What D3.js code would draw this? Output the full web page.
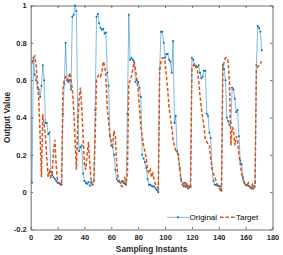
<!DOCTYPE html>
<html>
<head>
<meta charset="utf-8">
<script src="https://cdn.jsdelivr.net/npm/d3@7"></script>
<style>
  html, body { margin: 0; padding: 0; background: #fff; }
  svg text { font-family: "Liberation Sans", Arial, sans-serif; }
</style>
</head>
<body>
<div id="chart"></div>
<script>
const width = 283;
const height = 255;

// sampling instants 1..172
const instants = d3.range(1, 173);

const original = [
  0.05, 0.72, 0.63, 0.60, 0.56, 0.55, 0.51, 0.57, 0.68, 0.60,
  0.37, 0.37, 0.31, 0.32, 0.11, 0.09, 0.08, 0.07, 0.06, 0.05,
  0.05, 0.045, 0.04, 0.42, 0.58, 0.80, 0.60, 0.59, 0.60, 0.55,
  0.94, 0.95, 1.00, 0.97, 0.40, 0.22, 0.24, 0.25, 0.10, 0.06,
  0.05, 0.045, 0.055, 0.035, 0.055, 0.04, 0.06, 0.44, 0.94, 0.955,
  0.905, 0.88, 0.87, 0.875, 0.85, 0.855, 0.64, 0.57, 0.30, 0.25,
  0.24, 0.20, 0.12, 0.07, 0.06, 0.055, 0.05, 0.06, 0.05, 0.045,
  0.04, 0.42, 0.95, 0.71, 0.72, 0.71, 0.70, 0.59, 0.60, 0.59,
  0.56, 0.51, 0.20, 0.18, 0.16, 0.13, 0.07, 0.04, 0.04, 0.035,
  0.03, 0.03, 0.02, 0.01, 0.00, 0.66, 0.86, 0.86, 0.80, 0.72,
  0.74, 0.74, 0.71, 0.70, 0.64, 0.81, 0.37, 0.41, 0.22, 0.20,
  0.13, 0.07, 0.04, 0.03, 0.05, 0.03, 0.02, 0.025, 0.03, 0.72,
  0.71, 0.68, 0.67, 0.67, 0.68, 0.64, 0.61, 0.62, 0.65, 0.65,
  0.42, 0.41, 0.32, 0.29, 0.13, 0.06, 0.04, 0.04, 0.035, 0.035,
  0.03, 0.01, 0.68, 0.66, 0.60, 0.40, 0.38, 0.36, 0.37, 0.56,
  0.55, 0.50, 0.43, 0.44, 0.30, 0.17, 0.15, 0.08, 0.05, 0.04,
  0.04, 0.035, 0.03, 0.025, 0.02, 0.03, 0.05, 0.68, 0.89, 0.88,
  0.86, 0.76
];

const target = [
  0.69, 0.72, 0.73, 0.68, 0.60, 0.50, 0.30, 0.08, 0.42, 0.36,
  0.30, 0.18, 0.08, 0.12, 0.08, 0.10, 0.22, 0.28, 0.14, 0.06,
  0.05, 0.04, 0.05, 0.55, 0.60, 0.62, 0.62, 0.60, 0.64, 0.60,
  0.55, 0.45, 0.28, 0.12, 0.35, 0.50, 0.56, 0.45, 0.30, 0.15,
  0.12, 0.20, 0.27, 0.15, 0.06, 0.04, 0.05, 0.30, 0.60, 0.62,
  0.63, 0.62, 0.64, 0.70, 0.68, 0.62, 0.45, 0.38, 0.30, 0.27,
  0.25, 0.33, 0.30, 0.15, 0.08, 0.06, 0.04, 0.03, 0.05, 0.08,
  0.04, 0.10, 0.58, 0.60, 0.62, 0.66, 0.70, 0.66, 0.60, 0.55,
  0.45, 0.35, 0.30, 0.25, 0.22, 0.18, 0.12, 0.10, 0.12, 0.08,
  0.10, 0.06, 0.04, 0.03, 0.02, 0.65, 0.70, 0.72, 0.72, 0.70,
  0.62, 0.55, 0.45, 0.40, 0.35, 0.28, 0.25, 0.22, 0.22, 0.18,
  0.12, 0.06, 0.04, 0.05, 0.03, 0.05, 0.02, 0.04, 0.03, 0.66,
  0.68, 0.69, 0.68, 0.66, 0.60, 0.52, 0.45, 0.40, 0.35, 0.28,
  0.27, 0.26, 0.25, 0.18, 0.13, 0.10, 0.08, 0.06, 0.04, 0.03,
  0.01, 0.00, 0.66, 0.70, 0.72, 0.72, 0.70, 0.58, 0.25, 0.35,
  0.33, 0.25, 0.30, 0.28, 0.20, 0.15, 0.10, 0.07, 0.05, 0.04,
  0.03, 0.05, 0.03, 0.02, 0.04, 0.02, 0.03, 0.66, 0.67, 0.68,
  0.69, 0.70
];

const xTicks = [0, 20, 40, 60, 80, 100, 120, 140, 160, 180];
const yTicks = [-0.2, 0, 0.2, 0.4, 0.6, 0.8, 1];
const seriesNames = ["Original", "Target"];

const plotLeft = 30.7, plotRight = 272.5, plotTop = 5.5, plotBottom = 229.5;
const tickLen = 2.5;
const axisColor = "#6f6f6f";

const x = d3.scaleLinear().domain([0, 180]).range([plotLeft, plotRight]);
const y = d3.scaleLinear().domain([-0.2, 1]).range([plotBottom, plotTop]);

const svg = d3.select("#chart")
  .append("svg")
  .attr("width", width)
  .attr("height", height);

// axes (ticks point inward, box on)
const fmtY = d => d === 0 ? "0" : String(+d.toFixed(1));

const styleAxis = (g) => {
  g.select(".domain").attr("stroke", axisColor).attr("stroke-width", 1);
  g.selectAll(".tick line").attr("stroke", axisColor).attr("stroke-width", 1);
  g.selectAll(".tick text")
    .attr("fill", "#262626")
    .style("font-size", "7.5px")
    .style("font-weight", "bold");
};

svg.append("g")
  .attr("transform", `translate(0,${plotBottom})`)
  .call(d3.axisBottom(x).tickValues(xTicks).tickSize(-tickLen).tickPadding(5).tickSizeOuter(0))
  .call(styleAxis);

svg.append("g")
  .attr("transform", `translate(0,${plotTop})`)
  .call(d3.axisTop(x).tickValues(xTicks).tickSize(-tickLen).tickFormat("").tickSizeOuter(0))
  .call(styleAxis);

svg.append("g")
  .attr("transform", `translate(${plotLeft},0)`)
  .call(d3.axisLeft(y).tickValues(yTicks).tickSize(-tickLen).tickPadding(4).tickFormat(fmtY).tickSizeOuter(0))
  .call(styleAxis);

svg.append("g")
  .attr("transform", `translate(${plotRight},0)`)
  .call(d3.axisRight(y).tickValues(yTicks).tickSize(-tickLen).tickFormat("").tickSizeOuter(0))
  .call(styleAxis);

// axis labels
svg.append("text")
  .attr("x", (plotLeft + plotRight) / 2)
  .attr("y", 252)
  .attr("text-anchor", "middle")
  .attr("fill", "#262626")
  .style("font-size", "8.3px")
  .style("font-weight", "bold")
  .text("Sampling Instants");

svg.append("text")
  .attr("transform", `translate(10,${(plotTop + plotBottom) / 2}) rotate(-90)`)
  .attr("text-anchor", "middle")
  .attr("fill", "#262626")
  .style("font-size", "8.3px")
  .style("font-weight", "bold")
  .text("Output Value");

// series
const origData = instants.map((t, i) => ({ t: t, v: original[i] }));
const targData = instants.map((t, i) => ({ t: t, v: target[i] }));

const line = d3.line().x(d => x(d.t)).y(d => y(d.v));

svg.append("path")
  .datum(origData)
  .attr("fill", "none")
  .attr("stroke", "#0072BD")
  .attr("stroke-opacity", 0.7)
  .attr("stroke-width", 0.7)
  .attr("d", line);

svg.append("g")
  .selectAll("circle")
  .data(origData)
  .enter()
  .append("circle")
  .attr("cx", d => x(d.t))
  .attr("cy", d => y(d.v))
  .attr("r", 1)
  .attr("fill", "#0072BD");

svg.append("path")
  .datum(targData)
  .attr("fill", "none")
  .attr("stroke", "#D95319")
  .attr("stroke-width", 1.5)
  .attr("stroke-dasharray", "3.5,2")
  .attr("d", line);

// legend (no box)
const legY = 217.3;
const legend = svg.append("g");

legend.append("line")
  .attr("x1", 167).attr("x2", 189)
  .attr("y1", legY).attr("y2", legY)
  .attr("stroke", "#0072BD").attr("stroke-opacity", 0.7).attr("stroke-width", 0.7);
legend.append("circle")
  .attr("cx", 178).attr("cy", legY).attr("r", 1)
  .attr("fill", "#0072BD");
legend.append("text")
  .attr("x", 189.5).attr("y", legY + 2.8)
  .attr("fill", "#000")
  .style("font-size", "8px")
  .text(seriesNames[0]);

legend.append("line")
  .attr("x1", 220).attr("x2", 235)
  .attr("y1", legY).attr("y2", legY)
  .attr("stroke", "#D95319").attr("stroke-width", 1.5)
  .attr("stroke-dasharray", "3.5,2");
legend.append("text")
  .attr("x", 236).attr("y", legY + 2.8)
  .attr("fill", "#000")
  .style("font-size", "8px")
  .text(seriesNames[1]);
</script>
</body>
</html>
